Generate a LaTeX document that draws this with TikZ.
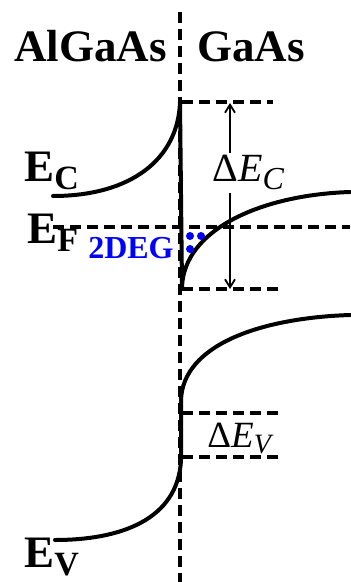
\documentclass[tikz,border=0pt]{standalone}
\usepackage{fontspec}
\setmainfont{Liberation Serif}
\usetikzlibrary{arrows.meta}
\definecolor{degblue}{RGB}{0,0,255}
\newcommand{\bsub}[1]{\raisebox{-4pt}{\fontsize{17}{19}\selectfont #1}}

\begin{document}
\begin{tikzpicture}[x=0.5pt, y=-0.5pt,
    band/.style={line width=2pt, line cap=round},
    level/.style={line width=1.9pt, dash pattern=on 5.5pt off 3pt},
    offset/.style={{Straight Barb[length=4pt,width=5pt]}-{Straight Barb[length=4pt,width=5pt]}, line width=0.9pt},
    lbl/.style={font=\fontsize{22.5}{26}\selectfont\bfseries, inner sep=0pt, anchor=base west},
    dot/.style={circle, fill=degblue, inner sep=0pt, minimum size=4pt}
  ]
    \useasboundingbox (0,0) rectangle (350,582);

    % interface
    \draw[level] (180,12) -- (180,582);

    % layer names
    \node[lbl] (algaas) at (14,62) {AlGaAs};
    \node[lbl] (gaas) at (197,62) {GaAs};

    % band-edge marks
    \coordinate (ectop) at (182,102);
    \coordinate (ecbot) at (182,289);
    \coordinate (evtop) at (182,413);
    \coordinate (evbot) at (182,457);
    \draw[level] (ectop) -- +(91,0);
    \draw[level] (ecbot) -- +(96,0);
    \draw[level] (evtop) -- +(96,0);
    \draw[level] (evbot) -- +(96,0);
    \draw[level] (53,227) -- (350,227);

    % conduction band
    \draw[band] (53,196) .. controls (130,196) and (178,160) .. (180,102)
                -- (182,287) .. controls (184,230) and (260,195) .. (350,192);
    % valence band
    \draw[band] (55,540) .. controls (120,540) and (178,520) .. (181,460)
                -- (181,400) .. controls (183,345) and (260,318) .. (350,315);

    % band offsets
    \coordinate (dectop) at (230,103);
    \coordinate (decbot) at (230,289);
    \draw[offset] (dectop) -- (decbot);
    \node[lbl, font=\fontsize{20}{24}\selectfont, fill=white, inner sep=1.5pt] (dec) at (209,182)
      {Δ\textit{E}\raisebox{-4pt}{\fontsize{16}{18}\selectfont\itshape C}};
    \node[lbl, font=\fontsize{18.5}{22}\selectfont] (dev) at (207,447)
      {Δ\textit{E}\raisebox{-3pt}{\fontsize{14}{16}\selectfont\itshape V}};

    % band labels
    \node[lbl] (ec) at (24,182) {E\bsub{C}};
    \node[lbl] (ef) at (27,243) {E\bsub{F}};
    \node[lbl] (ev) at (24,567) {E\bsub{V}};

    % 2DEG
    \node[lbl, anchor=base east, font=\fontsize{16}{19}\selectfont\bfseries, text=degblue] (deg) at (174,258) {2DEG};
    \node[dot] (e1) at (190,236) {};
    \node[dot] (e2) at (201,236) {};
    \node[dot] (e3) at (190,249) {};
\end{tikzpicture}
\end{document}
